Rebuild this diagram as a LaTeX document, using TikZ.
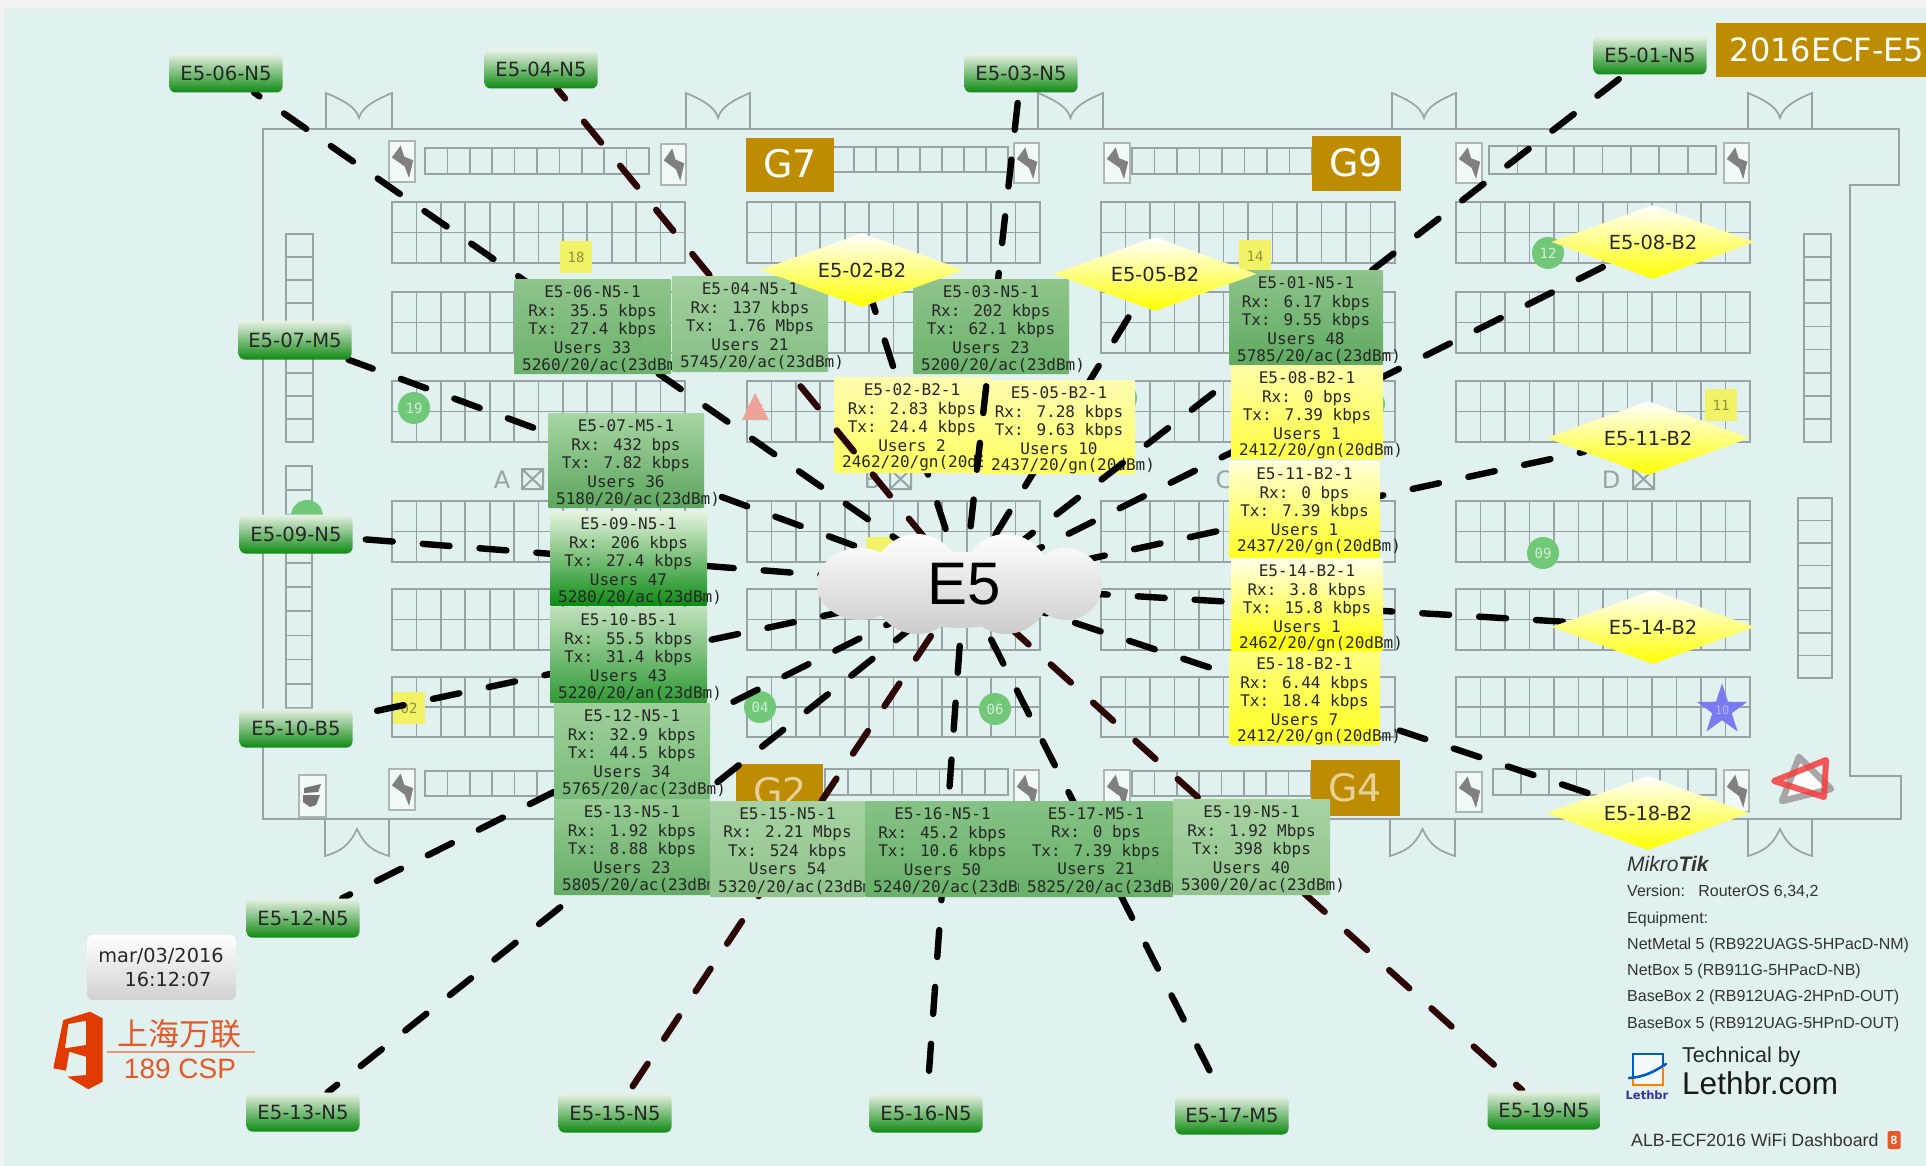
\documentclass[tikz,border=0pt]{standalone}
\usepackage{fontspec}
\usetikzlibrary{shapes.geometric,calc}
\setmainfont{Liberation Sans}
\newfontfamily\labelF{DejaVu Sans}
\newfontfamily\monoF{DejaVu Sans Mono}
\newfontfamily\cjkF{Noto Sans CJK SC}
\definecolor{pagebg}{HTML}{E0F1F0}
\definecolor{outerbg}{HTML}{F2F2F2}
\definecolor{floorln}{HTML}{9AA3A3}
\definecolor{gold}{HTML}{BE8C00}
\definecolor{maroon}{HTML}{2E0505}
\definecolor{circ}{HTML}{70C878}
\definecolor{padyel}{HTML}{F2F266}
\definecolor{orng}{HTML}{E03C00}
\definecolor{salmon}{HTML}{E8A598}
\definecolor{starblue}{HTML}{7A7AF0}
\definecolor{devT}{HTML}{E9F2E6}\definecolor{devM}{HTML}{6CB56C}\definecolor{devB}{HTML}{0F8A12}
\definecolor{gmT}{HTML}{8FC48B}\definecolor{gmB}{HTML}{6CB26C}
\definecolor{glT}{HTML}{A3D09F}\definecolor{glB}{HTML}{84BF84}
\definecolor{gaT}{HTML}{8FC48B}\definecolor{gaB}{HTML}{5FA960}
\definecolor{gbT}{HTML}{A8D6A4}\definecolor{gbB}{HTML}{5BA55C}
\definecolor{gcT}{HTML}{E8F4E0}\definecolor{gcB}{HTML}{0B8A12}
\definecolor{gdT}{HTML}{C0E0BC}\definecolor{gdB}{HTML}{2F9A34}
\definecolor{geT}{HTML}{9FD09B}\definecolor{geB}{HTML}{78BB78}
\definecolor{gfT}{HTML}{98CC94}\definecolor{gfB}{HTML}{64AC66}
\definecolor{ggT}{HTML}{A7D2A3}\definecolor{ggB}{HTML}{90C48C}
\definecolor{ghT}{HTML}{86C286}\definecolor{ghB}{HTML}{68B068}
\definecolor{yaT}{HTML}{FFFCB0}\definecolor{yaB}{HTML}{FFFF60}
\definecolor{ybT}{HTML}{FFFCA8}\definecolor{ybB}{HTML}{FFFF40}
\definecolor{ycT}{HTML}{FFFFD8}\definecolor{ycB}{HTML}{FFFF20}
\definecolor{ydT}{HTML}{FFFFE8}\definecolor{ydB}{HTML}{FFFF00}
\definecolor{yeT}{HTML}{FFFF80}\definecolor{yeB}{HTML}{FFFF20}
\pgfdeclarelayer{floorL}\pgfdeclarelayer{linksA}\pgfdeclarelayer{boxesA}\pgfdeclarelayer{linksB}
\pgfsetlayers{floorL,linksA,boxesA,linksB,main}
\tikzset{
  fp/.style={draw=floorln,line width=1.7pt},
  link/.style={line width=6.4pt,line cap=round,dash pattern=on 27pt off 30pt,dash phase=54pt,black},
  linkm/.style={link,maroon},
  dev/.style={rounded corners=6pt,top color=devT,middle color=devM,bottom color=devB,
     minimum width=113pt,minimum height=39pt,inner sep=0pt,font=\labelF\fontsize{19.6}{21}\selectfont,text=black!85},
  dia/.style={diamond,shape aspect=2.75,minimum width=203pt,minimum height=74pt,inner sep=0pt,
     top color=white,bottom color=yellow,font=\labelF\fontsize{19.4}{21}\selectfont,text=black!85},
  ibase/.style={inner sep=0pt,rounded corners=1pt},
  itext/.style={inner sep=0pt,align=center,font=\monoF\fontsize{16}{18.5}\selectfont,text=black!85},
  ilast/.style={inner sep=0pt,anchor=west,font=\monoF\fontsize{16}{18.5}\selectfont,text=black!85},
  goldbox/.style={fill=gold},
  goldtxt/.style={text=white,font=\labelF\fontsize{38}{42}\selectfont,inner sep=0pt},
  hall/.style={text=floorln,font=\labelF\fontsize{24}{26}\selectfont,inner sep=0pt},
  numtxt/.style={font=\monoF\fontsize{14}{16}\selectfont,inner sep=0pt},
  legend/.style={anchor=west,inner sep=0pt,text=black!80,font=\fontsize{16}{18}\selectfont},
}
\newcommand\gridbox[6]{%
  \draw[fp] (#1,#2) rectangle (#3,#4);
  \pgfmathsetmacro\dx{(#3-#1)/#5}\pgfmathsetmacro\dy{(#4-#2)/#6}
  \pgfmathtruncatemacro\cA{#5-1}\pgfmathtruncatemacro\rA{#6-1}
  \foreach \i in {1,...,\cA}{\draw[fp] ({#1+\i*\dx},#2) -- ({#1+\i*\dx},#4);}
  \ifnum\rA>0 \foreach \j in {1,...,\rA}{\draw[fp] (#1,{#2+\j*\dy}) -- (#3,{#2+\j*\dy});}\fi
}
\newcommand\doorT[2]{%
  \pgfmathsetmacro\xm{(#1+#2)/2}
  \draw[fp] (#1,129) -- (#1,93) .. controls ({#1+14},99) and ({\xm-3},106) .. (\xm,118) .. controls ({\xm+3},106) and ({#2-14},99) .. (#2,93) -- (#2,129) -- cycle;
}
\newcommand\doorB[2]{%
  \pgfmathsetmacro\xm{(#1+#2)/2}
  \draw[fp] (#1,819) -- (#1,856) .. controls ({#1+16},851) and ({\xm-8},846) .. (\xm,829) .. controls ({\xm+8},846) and ({#2-16},851) .. (#2,856) -- (#2,819);
}
\newcommand\boltbox[4]{%
  \pgfmathsetmacro\bw{#3-#1}\pgfmathsetmacro\bh{#4-#2}
  \draw[draw=floorln!80!white,line width=1.7pt,fill=white!55!pagebg] (#1,#2) rectangle (#3,#4);
  \fill[black!50] ({#1+.45*\bw},{#2+.11*\bh}) -- ({#1+.11*\bw},{#2+.40*\bh}) -- ({#1+.60*\bw},{#2+.62*\bh}) -- ({#1+.77*\bw},{#2+.90*\bh}) -- ({#1+.93*\bw},{#2+.47*\bh}) -- ({#1+.58*\bw},{#2+.38*\bh}) -- cycle;
}
\newcommand\ibox[8]{%
  \pgfmathsetmacro\cx{(#2+#4)/2}\pgfmathsetmacro\cy{(#3+#5)/2}
  \pgfmathsetmacro\bw{#4-#2}\pgfmathsetmacro\bh{#5-#3}
  \node[ibase,top color=#6T,bottom color=#6B,minimum width=\bw pt,minimum height=\bh pt] (#1) at (\cx,\cy) {};
  \node[itext] (#1t) at (\cx,{#3+40.5}) {#7};
  \node[ilast] (#1u) at ({#2+8},{#3+86.5}) {#8};
}
\begin{document}
\begin{tikzpicture}[x=1pt,y=-1pt]
\useasboundingbox (0,0) rectangle (1926,1166);
\begin{pgfonlayer}{floorL}
\fill[outerbg] (0,0) rectangle (1926,1166);
\fill[pagebg] (4,8) rectangle (1926,1166);
% hall outline
\draw[fp] (263,129) -- (1899,129) -- (1899,185) -- (1850,185) -- (1850,776) -- (1901,776) -- (1901,819) -- (263,819) -- cycle;
\doorT{326}{392}\doorT{686}{750}\doorT{1038}{1103}\doorT{1392}{1456}\doorT{1748}{1812}
\doorB{325}{389}\doorB{1390}{1455}\doorB{1748}{1812}
% booth blocks
\foreach \xa/\xb in {392/685,747/1040,1101/1395,1456/1750}{
  \foreach \ya/\yb in {202/263,292/353,381/442,501/562,589/650,677/737}{
    \gridbox{\xa}{\ya}{\xb}{\yb}{12}{2}
  }
}
% strips
\gridbox{425}{148}{649}{174}{10}{1}
\gridbox{832}{147}{1008}{172}{8}{1}
\gridbox{1132}{148}{1312}{174}{8}{1}
\gridbox{1489}{146}{1716}{174}{8}{1}
\gridbox{425}{771}{649}{796}{10}{1}
\gridbox{825}{769}{1008}{795}{8}{1}
\gridbox{1132}{771}{1311}{796}{8}{1}
\gridbox{1493}{769}{1716}{795}{8}{1}
\gridbox{286}{234}{313}{442}{1}{9}
\gridbox{286}{466}{312}{708}{1}{10}
\gridbox{1804}{234}{1831}{442}{1}{9}
\gridbox{1798}{498}{1832}{678}{1}{8}
% power boxes
\boltbox{389}{141}{415}{182}\boltbox{661}{144}{686}{185}\boltbox{1014}{143}{1039}{183}
\boltbox{1104}{143}{1130}{183}\boltbox{1456}{143}{1482}{183}\boltbox{1724}{143}{1749}{183}
\boltbox{389}{769}{415}{810}\boltbox{1014}{770}{1039}{812}\boltbox{1104}{770}{1130}{812}
\boltbox{1456}{772}{1482}{812}\boltbox{1724}{770}{1749}{812}
% security box
\draw[draw=floorln!80!white,line width=1.7pt,fill=white!55!pagebg] (299,775) rectangle (326,817);
\fill[black!55] (304,788) -- (321,784) -- (318,792) -- (304,793) -- cycle;
\fill[black!55] (303,795) -- (320,795) -- (316,805) -- (310,807) -- (303,802) -- cycle;
% gold panels
\fill[goldbox] (746,138) rectangle (834,192);
\fill[goldbox] (1312,136) rectangle (1401,191);
\fill[goldbox] (736,764) rectangle (823,812);
\fill[goldbox] (1311,760) rectangle (1400,816);
\fill[goldbox] (1716,23) rectangle (1926,77);
\node[goldtxt] (g7) at (790,164) {G7};
\node[goldtxt] (g9) at (1356,163) {G9};
\node[goldtxt,text=gold!40!white] (g2) at (780,792) {G2};
\node[goldtxt,text=gold!40!white] (g4) at (1355,788) {G4};
\node[goldtxt,font=\labelF\fontsize{32}{36}\selectfont] (title) at (1827,50) {2016ECF-E5};
% hall letters
\node[hall] (hA) at (502,480) {A};
\node[hall] (hB) at (872,480) {B};
\node[hall] (hC) at (1224,480) {C};
\node[hall] (hD) at (1611,480) {D};
\foreach \xa/\xb in {522/543,890/911,1240/1261,1633/1654}{
  \draw[draw=floorln,line width=2pt] (\xa,469) rectangle (\xb,489) (\xa,469) -- (\xb,489) (\xb,469) -- (\xa,489);
}
% markers
\foreach \mx/\my/\mn in {414/408/19,307/516/,760/707/04,995/709/06,1543/553/09,1548/253/12,1121/398/,1369/404/}{
  \fill[circ] (\mx,\my) circle (16pt);
  \node[numtxt,text=white!70!circ] at (\mx,\my) {\mn};
}
\foreach \xa/\ya/\mn in {560/241/18,1239/240/14,1705/389/11,393/692/02,866/537/}{
  \fill[padyel] (\xa,\ya) rectangle ({\xa+32},{\ya+32});
  \node[numtxt,text=black!40!padyel] at ({\xa+16},{\ya+16}) {\mn};
}
\fill[salmon] (755,393) -- (769,420) -- (742,420) -- cycle;
\node[numtxt,text=white!60!red] at (755,410) {07};
\node[star,star points=5,star point ratio=2.6,minimum size=27pt,inner sep=0pt,fill=starblue,text=blue!30!white,font=\monoF\fontsize{12}{14}\selectfont] (star10) at (1722,710) {10};
% triangle logo
\draw[black!35,line width=6.5pt,line join=round,fill=white] (1799,757) -- (1831,789) -- (1782,801) -- cycle;
\draw[red!75!pagebg,line width=6pt,line join=round,opacity=.85] (1826,760) -- (1774,781) -- (1824,797) -- cycle;
\end{pgfonlayer}

% boxes that lie under some of the links
\begin{pgfonlayer}{boxesA}
\ibox{b02}{834}{377}{990}{473}{ya}{E5-02-B2-1\\Rx: 2.83 kbps\\Tx: 24.4 kbps\\Users 2}{2462/20/gn(20dBm)}
\ibox{b05}{983}{380}{1135}{474}{ya}{E5-05-B2-1\\Rx: 7.28 kbps\\Tx: 9.63 kbps\\Users 10}{2437/20/gn(20dBm)}
\end{pgfonlayer}

% information boxes
\ibox{b06}{514}{279}{671}{374}{gm}{E5-06-N5-1\\Rx: 35.5 kbps\\Tx: 27.4 kbps\\Users 33}{5260/20/ac(23dBm)}
\ibox{b04}{672}{276}{828}{372}{gl}{E5-04-N5-1\\Rx: 137 kbps\\Tx: 1.76 Mbps\\Users 21}{5745/20/ac(23dBm)}
\ibox{b03}{913}{279}{1069}{374}{gm}{E5-03-N5-1\\Rx: 202 kbps\\Tx: 62.1 kbps\\Users 23}{5200/20/ac(23dBm)}
\ibox{b01}{1229}{270}{1383}{365}{ga}{E5-01-N5-1\\Rx: 6.17 kbps\\Tx: 9.55 kbps\\Users 48}{5785/20/ac(23dBm)}
\ibox{b08}{1231}{365}{1383}{459}{yb}{E5-08-B2-1\\Rx: 0 bps\\Tx: 7.39 kbps\\Users 1}{2412/20/gn(20dBm)}
\ibox{b11}{1229}{461}{1380}{558}{yc}{E5-11-B2-1\\Rx: 0 bps\\Tx: 7.39 kbps\\Users 1}{2437/20/gn(20dBm)}
\ibox{b14}{1231}{558}{1383}{651}{yd}{E5-14-B2-1\\Rx: 3.8 kbps\\Tx: 15.8 kbps\\Users 1}{2462/20/gn(20dBm)}
\ibox{b18}{1229}{651}{1380}{745}{ye}{E5-18-B2-1\\Rx: 6.44 kbps\\Tx: 18.4 kbps\\Users 7}{2412/20/gn(20dBm)}
\ibox{b07}{548}{413}{704}{508}{gb}{E5-07-M5-1\\Rx: 432 bps\\Tx: 7.82 kbps\\Users 36}{5180/20/ac(23dBm)}
\ibox{b09}{550}{511}{707}{606}{gc}{E5-09-N5-1\\Rx: 206 kbps\\Tx: 27.4 kbps\\Users 47}{5280/20/ac(23dBm)}
\ibox{b10}{550}{607}{707}{703}{gd}{E5-10-B5-1\\Rx: 55.5 kbps\\Tx: 31.4 kbps\\Users 43}{5220/20/an(23dBm)}
\ibox{b12}{554}{703}{710}{799}{ge}{E5-12-N5-1\\Rx: 32.9 kbps\\Tx: 44.5 kbps\\Users 34}{5765/20/ac(23dBm)}
\ibox{b13}{554}{799}{710}{895}{gf}{E5-13-N5-1\\Rx: 1.92 kbps\\Tx: 8.88 kbps\\Users 23}{5805/20/ac(23dBm)}
\ibox{b15}{710}{801}{865}{897}{gg}{E5-15-N5-1\\Rx: 2.21 Mbps\\Tx: 524 kbps\\Users 54}{5320/20/ac(23dBm)}
\ibox{b16}{865}{801}{1020}{897}{gh}{E5-16-N5-1\\Rx: 45.2 kbps\\Tx: 10.6 kbps\\Users 50}{5240/20/ac(23dBm)}
\ibox{b17}{1019}{801}{1173}{897}{gh}{E5-17-M5-1\\Rx: 0 bps\\Tx: 7.39 kbps\\Users 21}{5825/20/ac(23dBm)}
\ibox{b19}{1173}{799}{1330}{895}{gg}{E5-19-N5-1\\Rx: 1.92 Mbps\\Tx: 398 kbps\\Users 40}{5300/20/ac(23dBm)}

% cloud
\coordinate (hub) at (964,586);
\shade[top color=white,bottom color=black!20]
  (860,584) ellipse [x radius=43pt,y radius=36pt]
  (917,584) ellipse [x radius=46pt,y radius=50pt]
  (1006,584) ellipse [x radius=46pt,y radius=50pt]
  (1066,584) ellipse [x radius=36pt,y radius=36pt]
  (960,590) ellipse [x radius=80pt,y radius=38pt];
\node[inner sep=0pt,font=\fontsize{60}{64}\selectfont,text=black] (cloudE5) at (964,584) {E5};

% access points
\node[dev] (n06) at (226,73) {E5-06-N5};
\node[dev] (n04) at (541,69) {E5-04-N5};
\node[dev] (n03) at (1021,73) {E5-03-N5};
\node[dev] (n01) at (1650,55) {E5-01-N5};
\node[dev] (n07) at (295,340) {E5-07-M5};
\node[dev] (n09) at (296,534) {E5-09-N5};
\node[dev] (n10) at (296,728) {E5-10-B5};
\node[dev] (n12) at (303,918) {E5-12-N5};
\node[dev] (n13) at (303,1112) {E5-13-N5};
\node[dev] (n15) at (615,1113) {E5-15-N5};
\node[dev] (n16) at (926,1113) {E5-16-N5};
\node[dev] (n17) at (1232,1115) {E5-17-M5};
\node[dev] (n19) at (1544,1110) {E5-19-N5};
\node[dia] (n02) at (862,270) {E5-02-B2};
\node[dia] (n05) at (1155,274) {E5-05-B2};
\node[dia] (n08) at (1653,242) {E5-08-B2};
\node[dia] (n11) at (1648,438) {E5-11-B2};
\node[dia] (n14) at (1653,627) {E5-14-B2};
\node[dia] (n18) at (1648,813) {E5-18-B2};

% links
\begin{pgfonlayer}{linksA}
\draw[link] (hub) -- (n02);
\draw[link] (hub) -- (n05);
\end{pgfonlayer}
\begin{pgfonlayer}{linksB}
\draw[link] (hub) -- (n06);
\draw[linkm] (hub) -- (n04);
\draw[link] (hub) -- (n03);
\draw[link] (hub) -- (n01);
\draw[link] (hub) -- (n07);
\draw[link] (hub) -- (n09);
\draw[link] (hub) -- (n10);
\draw[link] (hub) -- (n12);
\draw[link] (hub) -- (n13);
\draw[linkm] (hub) -- (n15);
\draw[link] (hub) -- (n16);
\draw[link] (hub) -- (n17);
\draw[linkm] (hub) -- (n19);
\draw[link] (hub) -- (n08);
\draw[link] (hub) -- (n11);
\draw[link] (hub) -- (n14);
\draw[link] (hub) -- (n18);
\end{pgfonlayer}

% date
\node[rounded corners=6pt,top color=white,bottom color=black!18,minimum width=149pt,minimum height=65pt,inner sep=0pt] (datebox) at (161.5,967.5) {};
\node[inner sep=0pt,font=\labelF\fontsize{19.3}{21}\selectfont,text=black!85] (dateA) at (161,956) {mar/03/2016};
\node[inner sep=0pt,font=\labelF\fontsize{19.3}{21}\selectfont,text=black!85] (dateB) at (168,979) {16:12:07};

% orange logo
\fill[orng,even odd rule]
  (53.3,1068.3) -- (63.3,1020) -- (90,1011.7) -- (102.7,1018.3) -- (102.7,1081.7) -- (88.3,1089.3) -- (67.3,1076.7) -- (86,1075) -- (86,1056.7) -- (69.3,1051.7) -- (66,1070.7) -- cycle
  (68.3,1024) -- (86,1020.7) -- (86,1045) -- (65,1048.3) -- cycle;
\node[inner sep=0pt,text=orng!85!white,font=\cjkF\fontsize{31}{33}\selectfont] (cspA) at (179,1034) {上海万联};
\draw[orng!50!pagebg,line width=1.2pt] (107,1052) -- (255,1052);
\node[inner sep=0pt,text=orng!85!white,font=\fontsize{28}{31}\selectfont] (cspB) at (180,1069) {189 CSP};

% legend
\node[inner sep=0pt,anchor=west,text=black!80,font=\fontsize{21}{23}\selectfont\itshape] (mk) at (1627,864) {Mikro\textbf{Tik}};
\node[legend] (lg1) at (1627,892) {Version:\ \ \ RouterOS 6,34,2};
\node[legend] (lg2) at (1627,919) {Equipment:};
\node[legend] (lg3) at (1627,945) {NetMetal 5 (RB922UAGS-5HPacD-NM)};
\node[legend] (lg4) at (1627,971) {NetBox 5 (RB911G-5HPacD-NB)};
\node[legend] (lg5) at (1627,997) {BaseBox 2 (RB912UAG-2HPnD-OUT)};
\node[legend] (lg6) at (1627,1024) {BaseBox 5 (RB912UAG-5HPnD-OUT)};
% lethbr icon
\fill[white!60!pagebg] (1633,1054) rectangle (1663,1085);
\draw[blue!55!cyan!80!black,line width=2.2pt] (1663,1066) -- (1663,1054) -- (1633,1054) -- (1633,1078);
\draw[orange,line width=2.2pt] (1663,1068) -- (1663,1085) -- (1633,1085) -- (1633,1079);
\draw[blue!55!cyan!80!black,line width=2.6pt,line cap=round] (1629,1078) .. controls (1645,1077) and (1655,1071) .. (1666,1064);
\node[inner sep=0pt,text=blue!50!black!80,font=\labelF\bfseries\fontsize{11.5}{13}\selectfont] (lbi) at (1647,1095) {Lethbr};
\node[inner sep=0pt,anchor=west,text=black!85,font=\fontsize{21.5}{24}\selectfont] (tb) at (1682,1057) {Technical by};
\node[inner sep=0pt,anchor=west,text=black!90,font=\fontsize{31.5}{34}\selectfont] (lc) at (1682,1083) {Lethbr.com};
\node[legend,font=\fontsize{17.8}{20}\selectfont] (alb) at (1631,1140) {ALB-ECF2016 WiFi Dashboard};
\node[inner sep=0pt,minimum width=13pt,minimum height=18pt,rounded corners=1.5pt,fill=orng!85!white,text=white,font=\fontsize{12}{13}\bfseries\selectfont] (albi) at (1894,1140) {8};
\end{tikzpicture}
\end{document}
